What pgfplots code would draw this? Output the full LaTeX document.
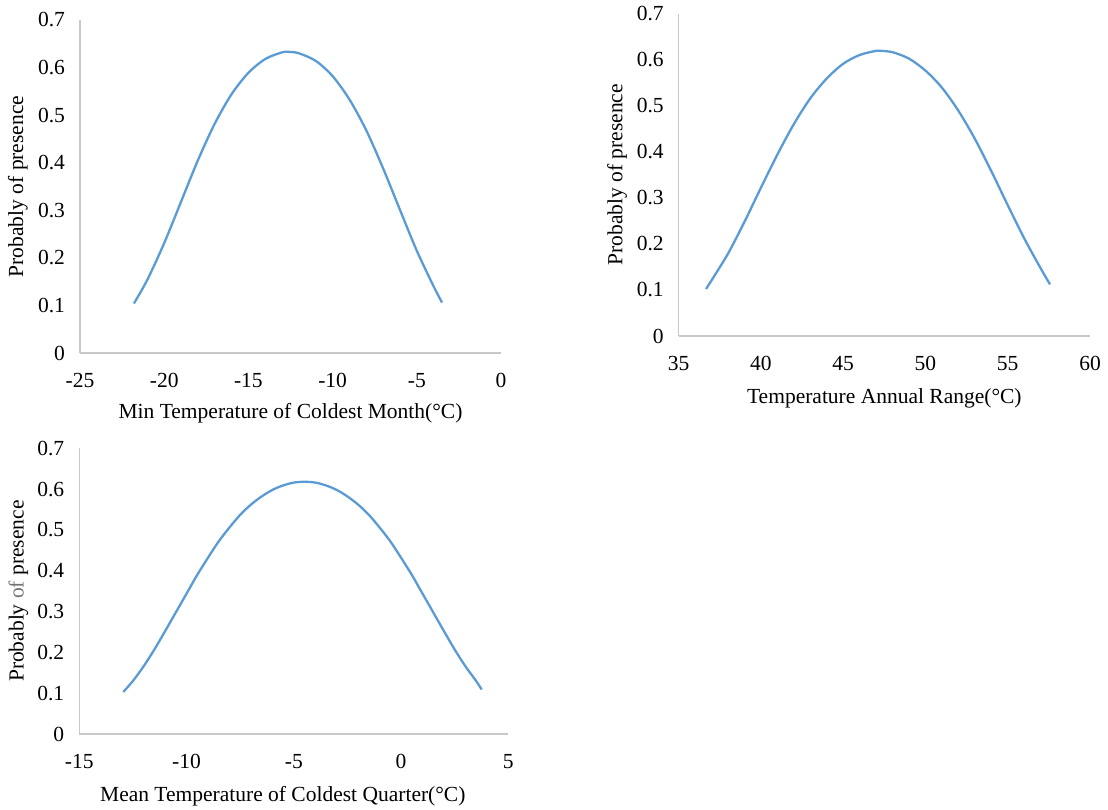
\documentclass[border=0pt]{standalone}
\usepackage{fontspec}
\setmainfont{Liberation Serif}
\usepackage{pgfplots}
\pgfplotsset{compat=1.18}
\definecolor{excelblue}{RGB}{91,155,213}
\definecolor{axgray}{RGB}{200,200,200}
\newcommand{\chartfont}{\fontsize{10.75pt}{12.9pt}\selectfont}
\pgfplotsset{
  panel/.style={
    scale only axis,
    axis lines=left,
    axis line style={-, draw=axgray, line width=0.6pt},
    major tick length=0pt,
    tick style={draw=none},
    /pgf/number format/assume math mode=true,
    ymin=0, ymax=0.7,
    ytick={0,0.1,0.2,0.3,0.4,0.5,0.6,0.7},
    yticklabels={0,0.1,0.2,0.3,0.4,0.5,0.6,0.7},
    xticklabel style={font=\chartfont, yshift=-6.5pt},
    yticklabel style={font=\chartfont, xshift=-4pt},
    clip=false,
  },
  curve/.style={excelblue, line width=1.15pt, smooth, no marks},
}
\begin{document}
\begin{tikzpicture}
\useasboundingbox (0,0) rectangle (554pt,404.5pt);
% Panel 1
\begin{axis}[panel,
  at={(40pt,228pt)}, anchor=south west,
  width=210.5pt, height=166.5pt,
  xmin=-25, xmax=0, xtick={-25,-20,-15,-10,-5,0},
  xlabel={Min Temperature of Coldest Month(°C)},
  ylabel={Probably of presence},
  every axis x label/.style={at={(axis description cs:0.5,0)}, anchor=center, yshift=-30pt, font=\chartfont},
  every axis y label/.style={at={(axis description cs:0,0.5)}, anchor=center, xshift=-31pt, rotate=90, font=\chartfont},
]
\addplot[curve] coordinates {
(-21.8,0.104) (-21,0.154) (-20,0.231) (-19,0.318) (-18,0.405) (-17,0.482)
(-16,0.544) (-15,0.589) (-14,0.618) (-13,0.632) (-12.6,0.633) (-12,0.630)
(-11,0.614) (-10,0.582) (-9,0.533) (-8,0.468) (-7,0.388) (-6,0.301)
(-5,0.215) (-4,0.140) (-3.5,0.106)
};
\end{axis}
% Panel 2
\begin{axis}[panel,
  at={(339.35pt,236.5pt)}, anchor=south west,
  width=205.65pt, height=161.25pt,
  xmin=35, xmax=60, xtick={35,40,45,50,55,60},
  xlabel={Temperature Annual Range(°C)},
  ylabel={Probably of presence},
  every axis x label/.style={at={(axis description cs:0.5,0)}, anchor=center, yshift=-31pt, font=\chartfont},
  every axis y label/.style={at={(axis description cs:0,0.5)}, anchor=center, xshift=-30.8pt, rotate=90, font=\chartfont},
]
\addplot[curve] coordinates {
(36.66,0.102) (37,0.121) (38,0.179) (39,0.248) (40,0.322) (41,0.394)
(42,0.460) (43,0.516) (44,0.559) (45,0.591) (46,0.610) (47,0.619)
(47.25,0.619) (48,0.616) (49,0.602) (50,0.576) (51,0.539) (52,0.489)
(53,0.428) (54,0.358) (55,0.284) (56,0.212) (57,0.147) (57.57,0.112)
};
\end{axis}
% Panel 3
\begin{axis}[panel,
  at={(39.65pt,37.5pt)}, anchor=south west,
  width=214.5pt, height=142.85pt,
  xmin=-15, xmax=5, xtick={-15,-10,-5,0,5},
  xlabel={Mean Temperature of Coldest Quarter(°C)},
  ylabel={Probably \textcolor{black!55}{of} presence},
  every axis x label/.style={at={(axis description cs:0.5,0)}, anchor=center, yshift=-31.3pt, xshift=-5.5pt, font=\chartfont},
  every axis y label/.style={at={(axis description cs:0,0.5)}, anchor=center, xshift=-30.5pt, rotate=90, font=\chartfont},
]
\addplot[curve] coordinates {
(-12.95,0.103) (-12.5,0.130) (-12,0.166) (-11.5,0.207) (-11,0.252)
(-10.5,0.298) (-10,0.344) (-9.5,0.390) (-9,0.432) (-8.5,0.472)
(-8,0.506) (-7.5,0.537) (-7,0.562) (-6.5,0.582) (-6,0.598)
(-5.5,0.609) (-5,0.616) (-4.5,0.618) (-4,0.616) (-3.5,0.609)
(-3,0.598) (-2.5,0.582) (-2,0.562) (-1.5,0.537) (-1,0.506)
(-0.5,0.472) (0,0.432) (0.5,0.390) (1,0.344) (1.5,0.298)
(2,0.252) (2.5,0.207) (3,0.166) (3.5,0.130) (3.76,0.109)
};
\end{axis}
\end{tikzpicture}
\end{document}
